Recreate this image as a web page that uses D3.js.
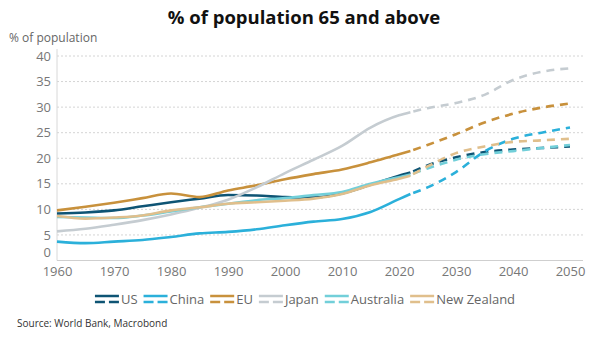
<!DOCTYPE html>
<html>
<head>
<meta charset="utf-8">
<script src="https://cdn.jsdelivr.net/npm/d3@7"></script>
<style>
    body { margin: 0; background: #fff; }
    svg { display: block; font-family: "Open Sans", sans-serif; }
</style>
</head>
<body>
<div id="container"></div>
<script>

// Observed years (solid) and projected years (dashed).
const histYears = [1960, 1965, 1970, 1975, 1980, 1985, 1990, 1995, 2000, 2005, 2010, 2015, 2020, 2022];
const projYears = [2022, 2025, 2030, 2035, 2040, 2045, 2050];

const usHist = [9.2, 9.4, 9.8, 10.6, 11.4, 12.1, 12.8, 12.7, 12.4, 12.3, 13.1, 14.8, 16.6, 17.2];
const chinaHist = [3.7, 3.4, 3.7, 4.0, 4.6, 5.3, 5.6, 6.1, 6.9, 7.6, 8.1, 9.5, 12.0, 13.0];
const euHist = [9.8, 10.5, 11.3, 12.2, 13.1, 12.4, 13.7, 14.7, 15.9, 16.9, 17.8, 19.2, 20.8, 21.4];
const japanHist = [5.7, 6.2, 7.0, 7.9, 9.0, 10.3, 11.9, 14.3, 17.1, 19.7, 22.4, 26.0, 28.4, 29.0];
const australiaHist = [8.5, 8.4, 8.3, 8.8, 9.6, 10.4, 11.1, 11.8, 12.2, 12.8, 13.4, 15.0, 16.3, 16.8];
const nzHist = [8.7, 8.2, 8.4, 8.8, 9.8, 10.4, 11.1, 11.4, 11.7, 12.1, 13.0, 14.7, 16.0, 16.6];

const usProj = [17.2, 18.6, 20.2, 21.2, 21.7, 22.0, 22.3];
const chinaProj = [13.0, 14.3, 17.3, 21.3, 23.8, 25.0, 26.0];
const euProj = [21.4, 22.6, 24.7, 27.0, 28.7, 29.9, 30.7];
const japanProj = [29.0, 29.8, 30.8, 32.4, 35.3, 36.9, 37.6];
const australiaProj = [16.8, 18.0, 19.7, 20.8, 21.4, 22.0, 22.6];
const nzProj = [16.6, 18.4, 21.0, 22.3, 23.2, 23.5, 23.8];

const seriesNames = ['US', 'China', 'EU', 'Japan', 'Australia', 'New Zealand'];
const seriesColors = ['#0e5474', '#2bb0da', '#c8913c', '#c5ccd1', '#72cfd9', '#e0bf8c'];
const histValues = [usHist, chinaHist, euHist, japanHist, australiaHist, nzHist];
const projValues = [usProj, chinaProj, euProj, japanProj, australiaProj, nzProj];

const yTicks = [0, 5, 10, 15, 20, 25, 30, 35, 40];
const xTicks = [1960, 1970, 1980, 1990, 2000, 2010, 2020, 2030, 2040, 2050];

const width = 600, height = 337;

const svg = d3.select('#container')
    .append('svg')
    .attr('width', width)
    .attr('height', height);

const x = d3.scaleLinear().domain([1960, 2050]).range([57, 570]);
const y = d3.scaleLinear().domain([0, 40]).range([260.5, 56]);

// Title and unit label.
svg.append('text')
    .attr('x', 304)
    .attr('y', 24)
    .attr('text-anchor', 'middle')
    .attr('font-size', 18.5)
    .attr('font-weight', 'bold')
    .attr('fill', '#111')
    .text('% of population 65 and above');

svg.append('text')
    .attr('x', 9)
    .attr('y', 42)
    .attr('font-size', 12)
    .attr('fill', '#666')
    .text('% of population');

// Dotted gridlines.
svg.append('g')
    .selectAll('line')
    .data(yTicks.filter(d => d > 0))
    .enter()
    .append('line')
    .attr('x1', 57)
    .attr('x2', 583)
    .attr('y1', d => y(d))
    .attr('y2', d => y(d))
    .attr('stroke', '#d4d4d4')
    .attr('stroke-width', 1)
    .attr('stroke-dasharray', '2,2');

// Y axis.
const yAxis = svg.append('g')
    .attr('transform', 'translate(57,0)')
    .call(d3.axisLeft(y).tickValues(yTicks).tickSize(0).tickPadding(6));
yAxis.select('.domain').attr('stroke', '#d8d8d8').attr('d', 'M0,' + (y(0)) + 'V49');
yAxis.selectAll('text')
    .attr('font-family', '"Open Sans", sans-serif')
    .attr('font-size', 13)
    .attr('fill', '#777');
// lift the zero label so it clears the year labels
yAxis.selectAll('.tick').filter(d => d === 0).select('text').attr('dy', '-0.3em');

// X axis.
const xAxis = svg.append('g')
    .attr('transform', 'translate(0,' + y(0) + ')')
    .call(d3.axisBottom(x).tickValues(xTicks).tickFormat(d3.format('d')).tickSize(0).tickPadding(6));
xAxis.select('.domain').attr('stroke', '#cfcfcf').attr('d', 'M57,0H583');
xAxis.selectAll('text')
    .attr('font-family', '"Open Sans", sans-serif')
    .attr('font-size', 13)
    .attr('fill', '#777');

// Series lines: solid history then dashed projection.
const line = d3.line()
    .x(d => x(d[0]))
    .y(d => y(d[1]))
    .curve(d3.curveMonotoneX);

const plot = svg.append('g');

seriesNames.forEach((name, i) => {
    plot.append('path')
        .datum(histYears.map((yr, j) => [yr, histValues[i][j]]))
        .attr('d', line)
        .attr('fill', 'none')
        .attr('stroke', seriesColors[i])
        .attr('stroke-width', 2.6);
});

seriesNames.forEach((name, i) => {
    plot.append('path')
        .datum(projYears.map((yr, j) => [yr, projValues[i][j]]))
        .attr('d', line)
        .attr('fill', 'none')
        .attr('stroke', seriesColors[i])
        .attr('stroke-width', 2.6)
        .attr('stroke-dasharray', '8,6')
        .attr('stroke-dashoffset', -3);
});

// Legend: each swatch shows a solid and a dashed stroke.
const legend = svg.append('g');
let lx = 0;
seriesNames.forEach((name, i) => {
    const item = legend.append('g').attr('transform', 'translate(' + lx + ',0)');
    item.append('line')
        .attr('x1', 0).attr('x2', 24)
        .attr('y1', -3).attr('y2', -3)
        .attr('stroke', seriesColors[i])
        .attr('stroke-width', 2.5);
    item.append('line')
        .attr('x1', 0).attr('x2', 24)
        .attr('y1', 3).attr('y2', 3)
        .attr('stroke', seriesColors[i])
        .attr('stroke-width', 2.5)
        .attr('stroke-dasharray', '10,4');
    const t = item.append('text')
        .attr('x', 26)
        .attr('y', 0)
        .attr('dy', '0.35em')
        .attr('font-size', 13)
        .attr('fill', '#666')
        .text(name);
    lx += 26 + t.node().getComputedTextLength() + 6;
});
legend.attr('transform', 'translate(' + (305 - (lx - 6) / 2) + ',299)');

// Source note.
svg.append('text')
    .attr('x', 17)
    .attr('y', 327)
    .attr('font-size', 10)
    .attr('fill', '#333')
    .text('Source: World Bank, Macrobond');

</script>
</body>
</html>
